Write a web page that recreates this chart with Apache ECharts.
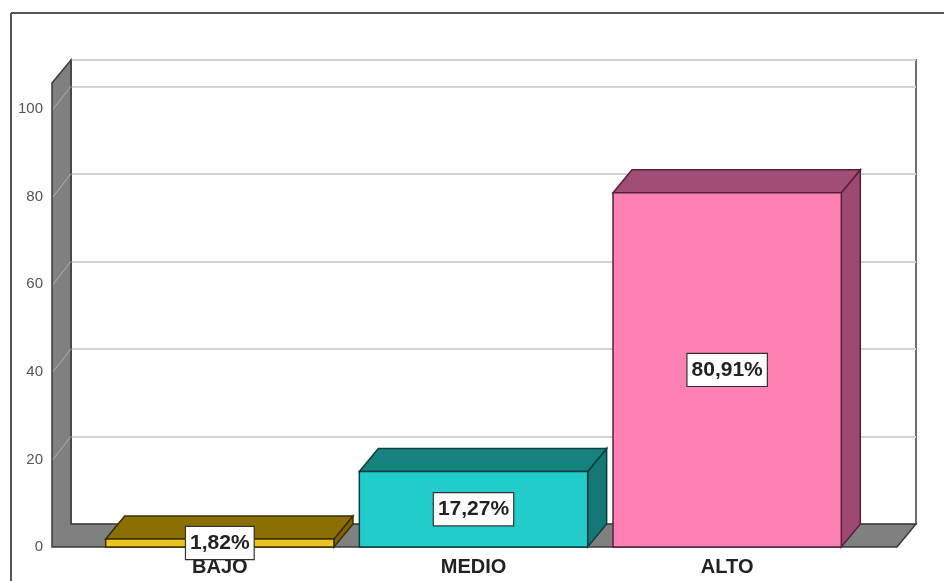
<!DOCTYPE html>
<html>
<head>
<meta charset="utf-8">
<script src="https://cdn.jsdelivr.net/npm/echarts@6/dist/echarts.min.js"></script>
<style>
  html, body { margin: 0; padding: 0; background: #ffffff; }
  #chart { width: 944px; height: 581px; }
</style>
</head>
<body>
<div id="chart"></div>
<script>
// Chart data
const categories = ['BAJO', 'MEDIO', 'ALTO'];
const percentages = [1.82, 17.27, 80.91];
const yTicks = [0, 20, 40, 60, 80, 100];
const yMax = 106;

// Box face colours: [front, top, side, outline]
const boxColors = [
  ['#EBC41F', '#8C6F02', '#7E6300', '#3a3000'],
  ['#20CDCB', '#178381', '#147877', '#0b3e3e'],
  ['#FF80B2', '#A24D73', '#9E4A70', '#56203d']
];

// Pseudo-3D depth offset and wall extension beyond the category band
const DX = 19, DY = -23;
const WALL_LEFT_EXT = 41, WALL_RIGHT_EXT = 43;
const BAR_RATIO = 0.9;
const FONT = '"Liberation Sans", Arial, sans-serif';

const chart = echarts.init(document.getElementById('chart'), null, { renderer: 'canvas' });

// Left wall + floor (L shape) and the slanted tick lines on the left wall
function renderWalls(params, api) {
  const cs = params.coordSys;
  const v = api.value(1);
  const x0 = cs.x - WALL_LEFT_EXT;
  const x1 = cs.x + cs.width + WALL_RIGHT_EXT;
  const yBase = api.coord([0, 0])[1];
  const yTop = api.coord([0, yMax])[1];
  const y = api.coord([0, v])[1];
  const children = [];
  if (params.dataIndex === 0) {
    children.push({
      type: 'polygon', z2: 0,
      shape: { points: [
        [x0, yTop], [x0 + DX, yTop + DY], [x0 + DX, yBase + DY],
        [x1 + DX, yBase + DY], [x1, yBase], [x0, yBase]
      ] },
      style: { fill: '#808080', stroke: '#3a3a3a', lineWidth: 1.5 }
    });
  }
  if (v > 0) {
    children.push({
      type: 'line', z2: 2,
      shape: { x1: x0 + 1, y1: y, x2: x0 + DX, y2: y + DY },
      style: { stroke: '#b0b0b0', lineWidth: 1 }
    });
  }
  return { type: 'group', children: children };
}

// Each bar as a box: side face, top face, front face with value label
function renderBox(params, api) {
  const i = params.dataIndex;
  const val = api.value(1);
  const top = api.coord([api.value(0), val]);
  const base = api.coord([api.value(0), 0]);
  const w = api.size([1, 0])[0] * BAR_RATIO;
  const l = top[0] - w / 2, r = top[0] + w / 2;
  const c = boxColors[i];
  const label = val.toFixed(2).replace('.', ',') + '%';
  return {
    type: 'group',
    children: [
      {
        type: 'polygon',
        shape: { points: [[r, top[1]], [r + DX, top[1] + DY], [r + DX, base[1] + DY], [r, base[1]]] },
        style: { fill: c[2], stroke: c[3], lineWidth: 1.5 }
      },
      {
        type: 'polygon',
        shape: { points: [[l, top[1]], [l + DX, top[1] + DY], [r + DX, top[1] + DY], [r, top[1]]] },
        style: { fill: c[1], stroke: c[3], lineWidth: 1.5 }
      },
      {
        type: 'rect',
        shape: { x: l, y: top[1], width: w, height: base[1] - top[1] },
        style: { fill: c[0], stroke: c[3], lineWidth: 1.5 },
        textContent: {
          z2: 10,
          style: {
            text: label,
            fill: '#222222',
            font: 'bold 21px ' + FONT,
            backgroundColor: '#ffffff',
            borderColor: '#333333',
            borderWidth: 1.2,
            padding: [6, 4, 5, 4]
          }
        },
        textConfig: { position: 'inside' }
      }
    ]
  };
}

const option = {
  backgroundColor: '#ffffff',
  animation: false,
  graphic: [
    { type: 'line', shape: { x1: 11, y1: 13, x2: 944, y2: 13 }, style: { stroke: '#555555', lineWidth: 2 } },
    { type: 'line', shape: { x1: 11, y1: 13, x2: 11, y2: 581 }, style: { stroke: '#555555', lineWidth: 2 } }
  ],
  grid: [
    // front plane
    { left: 93, right: 90, top: 83, bottom: 34 },
    // back wall
    { left: 71, right: 28, top: 60, bottom: 57, show: true, backgroundColor: '#ffffff', borderColor: '#6e6e6e', borderWidth: 2 }
  ],
  xAxis: [
    {
      type: 'category', gridIndex: 0, data: categories,
      axisLine: { show: false }, axisTick: { show: false },
      axisLabel: { margin: 10, color: '#222222', fontSize: 20, fontWeight: 'bold', fontFamily: FONT }
    },
    { type: 'value', gridIndex: 1, show: false }
  ],
  yAxis: [
    {
      type: 'value', gridIndex: 0, min: 0, max: yMax, interval: 20,
      axisLine: { show: false }, axisTick: { show: false }, splitLine: { show: false },
      axisLabel: {
        margin: 50, color: '#555555', fontSize: 15, fontFamily: FONT,
        formatter: v => (yTicks.indexOf(v) >= 0 ? String(v) : '')
      }
    },
    {
      type: 'value', gridIndex: 1, min: 0, max: yMax, interval: 20,
      axisLine: { show: false }, axisTick: { show: false }, axisLabel: { show: false },
      splitLine: { show: true, lineStyle: { color: '#d2d2d2', width: 2 } }
    }
  ],
  series: [
    {
      type: 'custom', name: 'walls', xAxisIndex: 0, yAxisIndex: 0, z: 1, clip: false,
      renderItem: renderWalls,
      data: yTicks.map(v => [0, v]),
      silent: true
    },
    {
      type: 'custom', name: 'porcentaje', xAxisIndex: 0, yAxisIndex: 0, z: 3, clip: false,
      renderItem: renderBox,
      data: percentages.map((v, i) => [i, v])
    }
  ]
};

chart.setOption(option);
</script>
</body>
</html>
